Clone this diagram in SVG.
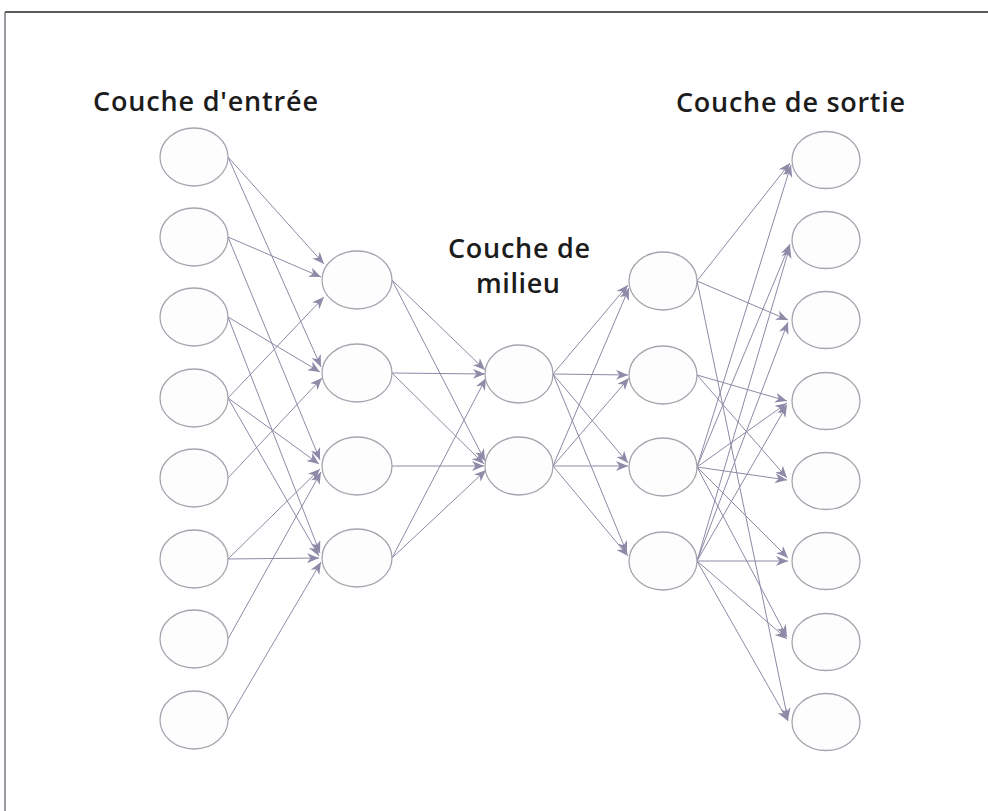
<svg xmlns="http://www.w3.org/2000/svg" width="988" height="811" viewBox="0 0 988 811">
  <defs>
    <marker id="arrow" markerUnits="userSpaceOnUse" markerWidth="13" markerHeight="11" refX="12" refY="5" orient="auto">
      <path d="M0,0 L12,5 L0,10 L3.5,5 Z" fill="#8e8aa8"/>
    </marker>
    <style>
      .node { fill: #fdfdfd; stroke: #a6a5af; stroke-width: 1.3; }
      .edge { stroke: #8d8aa6; stroke-width: 1; fill: none; marker-end: url(#arrow); }
      .label { font-family: "Open Sans", "Liberation Sans", sans-serif; font-weight: 600; font-size: 27px; fill: #1c1c1c; }
    </style>
  </defs>

  <rect width="988" height="811" fill="#ffffff"/>
  <!-- frame -->
  <line x1="5" y1="12" x2="988" y2="12" stroke="#5a5a5e" stroke-width="2"/>
  <line x1="5" y1="12" x2="5" y2="811" stroke="#7a7a86" stroke-width="1.5"/>

  <!-- layer titles -->
  <text class="label" x="93" y="111" textLength="225" lengthAdjust="spacing">Couche d'entrée</text>
  <text class="label" x="676" y="112" textLength="229" lengthAdjust="spacing">Couche de sortie</text>
  <text class="label" x="448" y="258" textLength="142" lengthAdjust="spacing">Couche de</text>
  <text class="label" x="476" y="293" textLength="84" lengthAdjust="spacing">milieu</text>

  <g id="connectors">
    <!-- input -> hidden 1 -->
    <line class="edge" x1="228" y1="157" x2="324" y2="264"/>
    <line class="edge" x1="228" y1="157" x2="321" y2="367"/>
    <line class="edge" x1="228" y1="237" x2="321" y2="277"/>
    <line class="edge" x1="228" y1="237" x2="320" y2="460"/>
    <line class="edge" x1="228" y1="317" x2="320" y2="372"/>
    <line class="edge" x1="228" y1="317" x2="320" y2="553"/>
    <line class="edge" x1="228" y1="398" x2="324" y2="297"/>
    <line class="edge" x1="228" y1="398" x2="319" y2="464"/>
    <line class="edge" x1="228" y1="398" x2="319" y2="556"/>
    <line class="edge" x1="228" y1="478" x2="322" y2="378"/>
    <line class="edge" x1="228" y1="559" x2="320" y2="469"/>
    <line class="edge" x1="228" y1="559" x2="319" y2="558"/>
    <line class="edge" x1="228" y1="639" x2="321" y2="472"/>
    <line class="edge" x1="228" y1="720" x2="321" y2="562"/>
    <!-- hidden 1 -> middle -->
    <line class="edge" x1="392" y1="280" x2="485" y2="370"/>
    <line class="edge" x1="392" y1="280" x2="485" y2="461"/>
    <line class="edge" x1="392" y1="373" x2="485" y2="374"/>
    <line class="edge" x1="392" y1="373" x2="484" y2="464"/>
    <line class="edge" x1="392" y1="466" x2="484" y2="466"/>
    <line class="edge" x1="392" y1="558" x2="486" y2="378"/>
    <line class="edge" x1="392" y1="558" x2="486" y2="470"/>
    <!-- middle -> hidden 2 -->
    <line class="edge" x1="553" y1="374" x2="628" y2="285"/>
    <line class="edge" x1="553" y1="374" x2="628" y2="375"/>
    <line class="edge" x1="553" y1="374" x2="628" y2="463"/>
    <line class="edge" x1="553" y1="374" x2="627" y2="553"/>
    <line class="edge" x1="553" y1="466" x2="629" y2="288"/>
    <line class="edge" x1="553" y1="466" x2="629" y2="378"/>
    <line class="edge" x1="553" y1="466" x2="628" y2="466"/>
    <line class="edge" x1="553" y1="466" x2="628" y2="556"/>
    <!-- hidden 2 -> output -->
    <line class="edge" x1="697" y1="281" x2="790" y2="163"/>
    <line class="edge" x1="697" y1="281" x2="788" y2="320"/>
    <line class="edge" x1="697" y1="281" x2="788" y2="720"/>
    <line class="edge" x1="697" y1="375" x2="787" y2="401"/>
    <line class="edge" x1="697" y1="375" x2="787" y2="478"/>
    <line class="edge" x1="697" y1="467" x2="791" y2="165"/>
    <line class="edge" x1="697" y1="467" x2="790" y2="244"/>
    <line class="edge" x1="697" y1="467" x2="787" y2="403"/>
    <line class="edge" x1="697" y1="467" x2="787" y2="480"/>
    <line class="edge" x1="697" y1="467" x2="788" y2="558"/>
    <line class="edge" x1="697" y1="467" x2="787" y2="637"/>
    <line class="edge" x1="697" y1="561" x2="790" y2="246"/>
    <line class="edge" x1="697" y1="561" x2="788" y2="322"/>
    <line class="edge" x1="697" y1="561" x2="787" y2="405"/>
    <line class="edge" x1="697" y1="561" x2="788" y2="561"/>
    <line class="edge" x1="697" y1="561" x2="787" y2="639"/>
    <line class="edge" x1="697" y1="561" x2="788" y2="721"/>
  </g>

  <!-- input layer -->
  <g id="in1"><ellipse class="node" cx="194" cy="157" rx="34" ry="29"/></g>
  <g id="in2"><ellipse class="node" cx="194" cy="237" rx="34" ry="29"/></g>
  <g id="in3"><ellipse class="node" cx="194" cy="317" rx="34" ry="29"/></g>
  <g id="in4"><ellipse class="node" cx="194" cy="398" rx="34" ry="29"/></g>
  <g id="in5"><ellipse class="node" cx="194" cy="478" rx="34" ry="29"/></g>
  <g id="in6"><ellipse class="node" cx="194" cy="559" rx="34" ry="29"/></g>
  <g id="in7"><ellipse class="node" cx="194" cy="639" rx="34" ry="29"/></g>
  <g id="in8"><ellipse class="node" cx="194" cy="720" rx="34" ry="29"/></g>

  <!-- first hidden layer -->
  <g id="h1"><ellipse class="node" cx="357" cy="280" rx="35" ry="29"/></g>
  <g id="h2"><ellipse class="node" cx="357" cy="373" rx="35" ry="29"/></g>
  <g id="h3"><ellipse class="node" cx="357" cy="466" rx="35" ry="29"/></g>
  <g id="h4"><ellipse class="node" cx="357" cy="558" rx="35" ry="29"/></g>

  <!-- middle layer -->
  <g id="m1"><ellipse class="node" cx="519" cy="374" rx="34" ry="29"/></g>
  <g id="m2"><ellipse class="node" cx="519" cy="466" rx="34" ry="29"/></g>

  <!-- second hidden layer -->
  <g id="j1"><ellipse class="node" cx="663" cy="281" rx="34" ry="29"/></g>
  <g id="j2"><ellipse class="node" cx="663" cy="375" rx="34" ry="29"/></g>
  <g id="j3"><ellipse class="node" cx="663" cy="467" rx="34" ry="29"/></g>
  <g id="j4"><ellipse class="node" cx="663" cy="561" rx="34" ry="29"/></g>

  <!-- output layer -->
  <g id="out1"><ellipse class="node" cx="826" cy="160" rx="34" ry="28.5"/></g>
  <g id="out2"><ellipse class="node" cx="826" cy="240" rx="34" ry="28.5"/></g>
  <g id="out3"><ellipse class="node" cx="826" cy="320" rx="34" ry="28.5"/></g>
  <g id="out4"><ellipse class="node" cx="826" cy="401" rx="34" ry="28.5"/></g>
  <g id="out5"><ellipse class="node" cx="826" cy="481" rx="34" ry="28.5"/></g>
  <g id="out6"><ellipse class="node" cx="826" cy="561" rx="34" ry="28.5"/></g>
  <g id="out7"><ellipse class="node" cx="826" cy="642" rx="34" ry="28.5"/></g>
  <g id="out8"><ellipse class="node" cx="826" cy="722" rx="34" ry="28.5"/></g>
</svg>
